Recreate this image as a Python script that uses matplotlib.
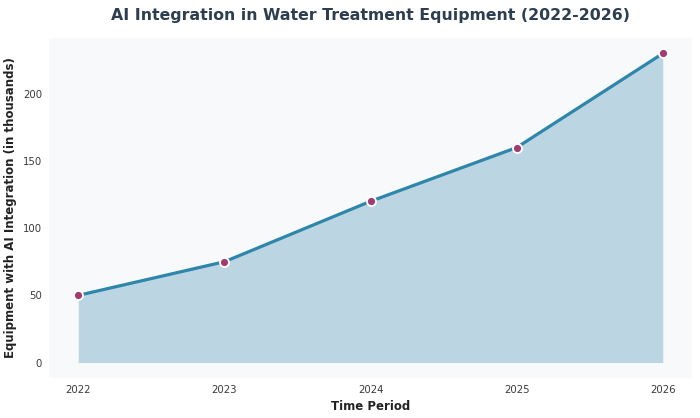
import matplotlib
matplotlib.use("Agg")
import matplotlib.pyplot as plt

# 연도별 AI 통합 장비 수 (천 대)
years = [2022, 2023, 2024, 2025, 2026]
equipment = [50, 75, 120, 160, 230]

fig, ax = plt.subplots(figsize=(7, 4.18), dpi=100)
ax.set_facecolor("#f8f9fa")

ax.fill_between(years, equipment, color="#2e86ab", alpha=0.3, linewidth=0)
ax.plot(years, equipment, color="#2e86ab", linewidth=2.3, marker="o",
        markersize=6.5, markerfacecolor="#a23b72", markeredgecolor="white",
        markeredgewidth=1.3)

ax.set_xticks(years)
ax.set_title("AI Integration in Water Treatment Equipment (2022-2026)",
             fontsize=11.3, fontweight="bold", color="#2c3e50", pad=13)
ax.set_xlabel("Time Period", fontsize=8.5, fontweight="bold", color="#222222")
ax.set_ylabel("Equipment with AI Integration (in thousands)", fontsize=8.5,
              fontweight="bold", color="#222222")
ax.tick_params(axis="both", length=0, labelsize=7.3, colors="#3a3a3a", pad=5)

for s in ax.spines.values():
    s.set_visible(False)

plt.subplots_adjust(left=0.07, right=0.9886, top=0.909, bottom=0.0957)
plt.savefig("out.png", dpi=100)
